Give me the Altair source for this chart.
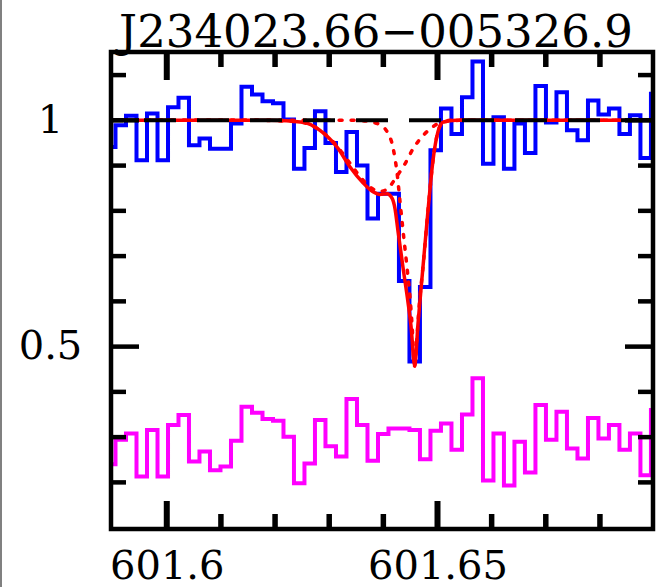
import altair as alt
import pandas as pd

TITLE = "J234023.66\u2212005326.9"

# observed spectrum: bin centres (nm), normalised flux, residual (offset)
WAVE = [601.58956, 601.59150, 601.59344, 601.59538, 601.59732, 601.59926, 601.60120,
        601.60313, 601.60507, 601.60701, 601.60895, 601.61089, 601.61283, 601.61477,
        601.61671, 601.61865, 601.62059, 601.62252, 601.62446, 601.62640, 601.62834,
        601.63028, 601.63222, 601.63416, 601.63610, 601.63804, 601.63998, 601.64191,
        601.64385, 601.64579, 601.64773, 601.64967, 601.65161, 601.65355, 601.65549,
        601.65743, 601.65937, 601.66130, 601.66324, 601.66518, 601.66712, 601.66906,
        601.67100, 601.67294, 601.67488, 601.67682, 601.67876, 601.68069, 601.68263,
        601.68457, 601.68651, 601.68845, 601.69039]
FLUX = [0.941, 0.989, 1.010, 0.912, 1.015, 0.912, 1.029, 1.050, 0.945, 0.960,
        0.937, 0.937, 0.993, 1.074, 1.057, 1.042, 1.038, 1.002, 0.893, 0.939,
        1.020, 0.950, 0.886, 0.974, 0.900, 0.783, 0.838, 0.838, 0.645, 0.467,
        0.632, 0.934, 1.026, 0.970, 1.051, 1.130, 0.904, 1.007, 0.893, 0.993,
        0.928, 1.076, 0.995, 1.062, 0.978, 0.956, 1.044, 1.013, 1.026, 0.970,
        1.011, 0.917, 1.059]
RESID = [0.240, 0.294, 0.308, 0.213, 0.316, 0.213, 0.327, 0.349, 0.246, 0.268,
         0.227, 0.235, 0.292, 0.367, 0.354, 0.340, 0.336, 0.301, 0.198, 0.242,
         0.338, 0.280, 0.257, 0.384, 0.327, 0.248, 0.307, 0.319, 0.319, 0.316,
         0.251, 0.314, 0.330, 0.272, 0.350, 0.430, 0.204, 0.308, 0.193, 0.290,
         0.222, 0.371, 0.294, 0.356, 0.275, 0.253, 0.342, 0.297, 0.327, 0.272,
         0.308, 0.216, 0.360]

# total model
FIT_WAVE = [601.58972, 601.61907, 601.62517, 601.62830, 601.63144, 601.63384, 601.63624,
            601.63809, 601.63938, 601.64068, 601.64160, 601.64215, 601.64271, 601.64363,
            601.64455, 601.64511, 601.64579, 601.64640, 601.64732, 601.64825, 601.64917,
            601.65009, 601.65102, 601.65342, 601.68979]
FIT_FLUX = [1.0, 1.0, 0.996, 0.978, 0.941, 0.897, 0.862,
            0.842, 0.836, 0.838, 0.828, 0.805, 0.755, 0.675,
            0.598, 0.545, 0.457, 0.551, 0.676, 0.801, 0.912,
            0.975, 0.996, 1.0, 1.0]

# broad component
COMP1_WAVE = [601.58972, 601.61538, 601.62277, 601.62517, 601.62830, 601.63144, 601.63384,
              601.63624, 601.63809, 601.63938, 601.64068, 601.64252, 601.64400, 601.64548,
              601.64732, 601.64954, 601.65175, 601.65415, 601.68979]
COMP1_FLUX = [1.0, 1.0, 0.998, 0.995, 0.978, 0.943, 0.905,
              0.868, 0.848, 0.843, 0.848, 0.877, 0.904, 0.937,
              0.966, 0.989, 0.998, 1.0, 1.0]

# narrow deep component
COMP2_WAVE = [601.58972, 601.63477, 601.63754, 601.63938, 601.64068, 601.64178, 601.64252,
              601.64308, 601.64363, 601.64437, 601.64492, 601.64529, 601.64579, 601.64621,
              601.64658, 601.64732, 601.64825, 601.64917, 601.65009, 601.65102, 601.65231,
              601.68979]
COMP2_FLUX = [1.0, 1.0, 0.997, 0.990, 0.975, 0.940, 0.885,
              0.820, 0.757, 0.675, 0.610, 0.550, 0.457, 0.520,
              0.585, 0.676, 0.801, 0.912, 0.975, 0.995, 1.0,
              1.0]

CONTINUUM = [1.0]
X_LABELS = [601.6, 601.65]
X_MINOR = [601.61, 601.62, 601.63, 601.64, 601.66, 601.67, 601.68]
Y_LABELS = [0.5, 1.0]
Y_MINOR = [0.2, 0.3, 0.4, 0.6, 0.7, 0.8, 0.9, 1.1]

X_DOMAIN = [601.5897, 601.6898]
Y_DOMAIN = [0.097, 1.151]
W, H = 542, 477
FONT = "DejaVu Serif"
MAJ, MIN = 28, 15

xs = alt.Scale(domain=X_DOMAIN, nice=False, zero=False)
ys = alt.Scale(domain=Y_DOMAIN, nice=False, zero=False)
xaxis = alt.Axis(values=X_LABELS, format="~g", ticks=False, domain=False, grid=False,
                 labelFont=FONT, labelFontSize=40, labelColor="black",
                 labelPadding=17, labelFlush=False, labelOverlap=False, title=None)
yaxis = alt.Axis(values=Y_LABELS, format="~g", ticks=False, domain=False, grid=False,
                 labelFont=FONT, labelFontSize=40, labelColor="black",
                 labelPadding=61, labelAlign="center", labelBaseline="middle",
                 labelFlush=False, labelOverlap=False, title=None)


def X(f):
    return alt.X(f"{f}:Q", scale=xs, axis=xaxis)


def Y(f):
    return alt.Y(f"{f}:Q", scale=ys, axis=yaxis)


spec = pd.DataFrame({"w": WAVE, "f": FLUX, "r": RESID})
fit_df = pd.DataFrame({"w": FIT_WAVE, "f": FIT_FLUX})
c1_df = pd.DataFrame({"w": COMP1_WAVE, "f": COMP1_FLUX})
c2_df = pd.DataFrame({"w": COMP2_WAVE, "f": COMP2_FLUX})

resid = alt.Chart(spec).mark_line(interpolate="step", color="#ff00ff", strokeWidth=4,
                                  clip=True).encode(x=X("w"), y=Y("r"))
flux = alt.Chart(spec).mark_line(interpolate="step", color="#0000ff", strokeWidth=4,
                                 clip=True).encode(x=X("w"), y=Y("f"))
fit = alt.Chart(fit_df).mark_line(interpolate="monotone", color="#ff0000", strokeWidth=3.5,
                                  clip=True).encode(x=X("w"), y=Y("f"))
comp1 = alt.Chart(c1_df).mark_line(interpolate="monotone", color="#ff0000", strokeWidth=3.5,
                                   strokeDash=[3, 9], strokeCap="round",
                                   clip=True).encode(x=X("w"), y=Y("f"))
comp2 = alt.Chart(c2_df).mark_line(interpolate="monotone", color="#ff0000", strokeWidth=3.5,
                                   strokeDash=[3, 9], strokeCap="round",
                                   clip=True).encode(x=X("w"), y=Y("f"))
cont = alt.Chart(pd.DataFrame({"c": CONTINUUM})).mark_rule(
    color="black", strokeWidth=4, strokeDash=[32, 21]).encode(y=Y("c"))

xmaj = pd.DataFrame({"v": X_LABELS})
xmin = pd.DataFrame({"v": X_MINOR})
ymaj = pd.DataFrame({"v": Y_LABELS})
ymin = pd.DataFrame({"v": Y_MINOR})

ticks = []
for df, ln, sw in [(xmaj, MAJ, 6), (xmin, MIN, 5.5)]:
    ticks.append(alt.Chart(df).mark_rule(color="black", strokeWidth=sw).encode(
        x=X("v"), y=alt.value(H), y2=alt.value(H - ln)))
    ticks.append(alt.Chart(df).mark_rule(color="black", strokeWidth=sw).encode(
        x=X("v"), y=alt.value(0), y2=alt.value(ln)))
for df, ln, sw in [(ymaj, MAJ, 4.5), (ymin, MIN, 4.5)]:
    ticks.append(alt.Chart(df).mark_rule(color="black", strokeWidth=sw).encode(
        y=Y("v"), x=alt.value(0), x2=alt.value(ln)))
    ticks.append(alt.Chart(df).mark_rule(color="black", strokeWidth=sw).encode(
        y=Y("v"), x=alt.value(W), x2=alt.value(W - ln)))

frame = alt.Chart(alt.Data(values=[{}])).mark_rect(
    fillOpacity=0, stroke="black", strokeWidth=4.5).encode(
    x=alt.value(0), x2=alt.value(W), y=alt.value(0), y2=alt.value(H))

border = alt.Chart(alt.Data(values=[{}])).mark_rule(
    color="#808080", strokeWidth=2).encode(
    x=alt.value(-110), y=alt.value(-52), y2=alt.value(H + 58))

title = alt.Chart(alt.Data(values=[{}])).mark_text(
    font=FONT, fontSize=45, fontWeight="normal", color="black",
    align="center", baseline="alphabetic").encode(
    x=alt.value(W / 2 - 6), y=alt.value(-5), text=alt.value(TITLE))

chart = alt.layer(resid, flux, fit, comp1, comp2, cont, *ticks, frame, border,
                  title).properties(
    width=W, height=H,
    autosize=alt.AutoSizeParams(type="none"),
    padding={"left": 111, "top": 52, "right": 5, "bottom": 58},
    background="white",
).configure_view(stroke=None)

chart.save("out.html", embed_options={"renderer": "svg", "actions": False})
